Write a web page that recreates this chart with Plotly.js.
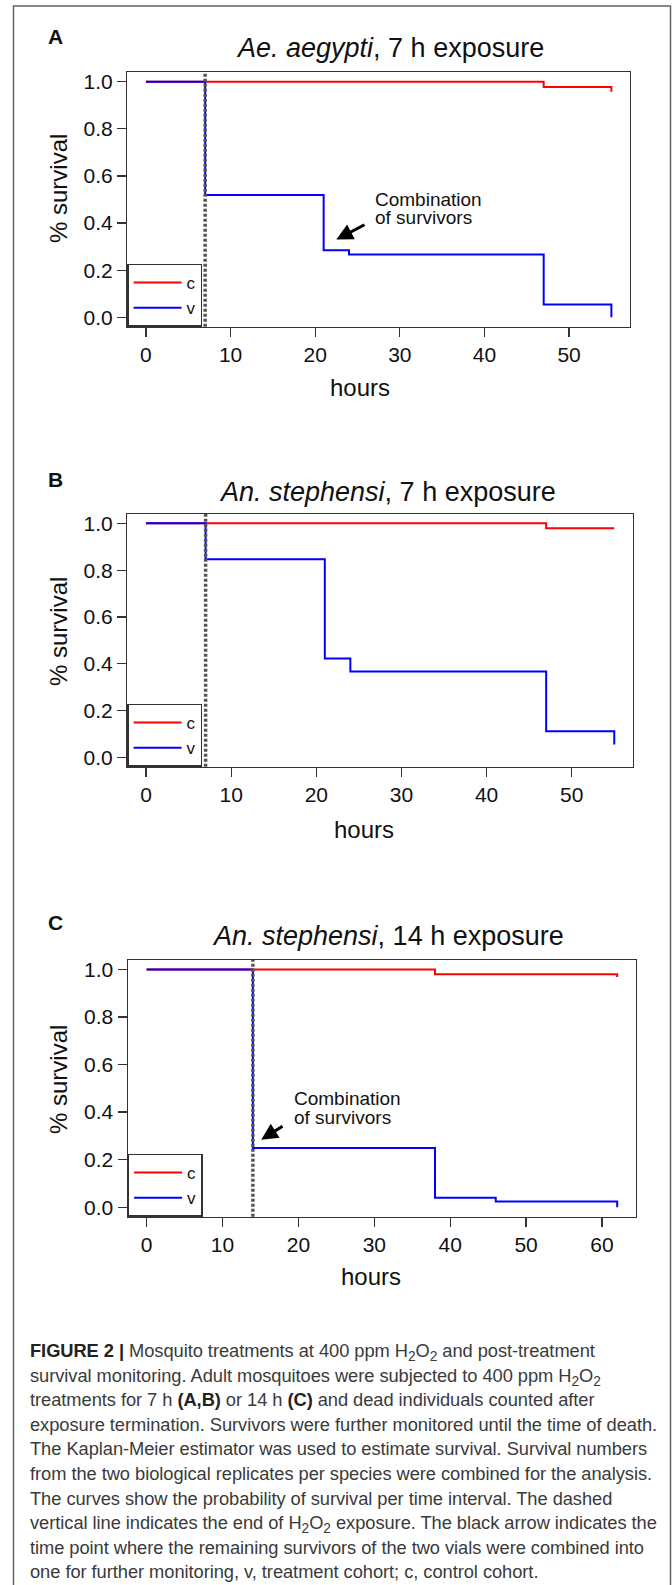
<!DOCTYPE html>
<html>
<head>
<meta charset="utf-8">
<script src="https://cdn.plot.ly/plotly-3.0.1.min.js"></script>
<style>
  html, body { margin: 0; padding: 0; background: #fff; overflow: hidden; }
  #wrap { position: relative; width: 672px; height: 1585px; }
  #chart { position: absolute; left: 0; top: 0; width: 672px; height: 1585px; }
  #caption {
    position: absolute; left: 30px; top: 1339px; width: 640px;
    font-family: "Liberation Sans", Arial, sans-serif; font-size: 18.3px;
    line-height: 24.6px; color: #3a3a3a; white-space: nowrap; letter-spacing: -0.05px;
  }
  #caption b { color: #222; }
  #caption sub { font-size: 0.75em; vertical-align: baseline; position: relative; top: 0.3em; line-height: 0; }
</style>
</head>
<body>
<div id="wrap">
  <div id="chart"></div>
  <div id="caption">
    <b>FIGURE 2 |</b> Mosquito treatments at 400 ppm H<sub>2</sub>O<sub>2</sub> and post-treatment<br>
    survival monitoring. Adult mosquitoes were subjected to 400 ppm H<sub>2</sub>O<sub>2</sub><br>
    treatments for 7 h <b>(A,B)</b> or 14 h <b>(C)</b> and dead individuals counted after<br>
    exposure termination. Survivors were further monitored until the time of death.<br>
    The Kaplan-Meier estimator was used to estimate survival. Survival numbers<br>
    from the two biological replicates per species were combined for the analysis.<br>
    The curves show the probability of survival per time interval. The dashed<br>
    vertical line indicates the end of H<sub>2</sub>O<sub>2</sub> exposure. The black arrow indicates the<br>
    time point where the remaining survivors of the two vials were combined into<br>
    one for further monitoring, v, treatment cohort; c, control cohort.
  </div>
</div>
<script>
// ---------- data ----------
const panelLabels = ["A", "B", "C"];
const panelTitles = ["<i>Ae. aegypti</i>, 7 h exposure", "<i>An. stephensi</i>, 7 h exposure", "<i>An. stephensi</i>, 14 h exposure"];
const exposureHours = [7, 7, 14];
const seriesNames = ["c", "v"];
const xAxisTitle = "hours";
const yAxisTitle = "% survival";

// Panel A
const hoursA_c = [0, 47, 55];
const survA_c  = [1.0, 0.978, 0.957];
const hoursA_v = [0, 7, 21, 24, 47, 55];
const survA_v  = [1.0, 0.519, 0.285, 0.267, 0.054, 0.0];

// Panel B
const hoursB_c = [0, 47, 55];
const survB_c  = [1.0, 0.979, 0.979];
const hoursB_v = [0, 7, 21, 24, 47, 55];
const survB_v  = [1.0, 0.847, 0.422, 0.367, 0.112, 0.055];

// Panel C
const hoursC_c = [0, 38, 62];
const survC_c  = [1.0, 0.980, 0.968];
const hoursC_v = [0, 14, 38, 46, 62];
const survC_v  = [1.0, 0.249, 0.040, 0.024, 0.0];

const xTickVals = [0, 10, 20, 30, 40, 50, 60];
const yTickVals = [0, 0.2, 0.4, 0.6, 0.8, 1.0];
const yTickText = ["0.0", "0.2", "0.4", "0.6", "0.8", "1.0"];
const annotLines = ["Combination", "of survivors"];

// ---------- layout helpers ----------
const W = 672, H = 1585;
const FONT = '"Liberation Sans", Arial, Helvetica, sans-serif';
const px = v => v / W;
const py = v => 1 - v / H;

const boxes = [
  {l: 127.3, r: 630.0, t: 72.3,  b: 326.7, xr: [-2.2, 57.2]},
  {l: 127.3, r: 633.0, t: 514.0, b: 766.7, xr: [-2.2, 57.2]},
  {l: 127.8, r: 636.0, t: 960.0, b: 1216.7, xr: [-2.48, 64.48]}
];
const titlePos = [{x: 390, y: 48}, {x: 388, y: 492}, {x: 388, y: 936}];
const labelPos = [{x: 46, y: 36}, {x: 46, y: 479}, {x: 46, y: 922}];
const xTitlePos = [{x: 360, y: 388}, {x: 364, y: 829}, {x: 371, y: 1276}];
const yTitlePos = [{x: 58, y: 189}, {x: 58, y: 632}, {x: 58, y: 1080}];

function xAxis(i) {
  const b = boxes[i];
  return {
    domain: [px(b.l), px(b.r)], range: b.xr, anchor: i === 0 ? 'y' : 'y' + (i + 1),
    showline: true, mirror: true, linecolor: '#333', linewidth: 1.3,
    ticks: 'outside', ticklen: 9, tickwidth: 1.3, tickcolor: '#333',
    tickvals: xTickVals, showgrid: false, zeroline: false,
    tickfont: {size: 21, color: '#111'},
    automargin: false, fixedrange: true
  };
}
function yAxis(i) {
  const b = boxes[i];
  return {
    domain: [py(b.b), py(b.t)], range: [-0.04, 1.04], anchor: i === 0 ? 'x' : 'x' + (i + 1),
    showline: true, mirror: true, linecolor: '#333', linewidth: 1.3,
    ticks: 'outside', ticklen: 9, tickwidth: 1.3, tickcolor: '#333',
    tickvals: yTickVals, ticktext: yTickText, showgrid: false, zeroline: false,
    tickfont: {size: 21, color: '#111'},
    automargin: false, fixedrange: true
  };
}

const cData = [[hoursA_c, survA_c], [hoursB_c, survB_c], [hoursC_c, survC_c]];
const vData = [[hoursA_v, survA_v], [hoursB_v, survB_v], [hoursC_v, survC_v]];

const traces = [];
const layout = {
  width: W, height: H, margin: {l: 0, r: 0, t: 0, b: 0},
  paper_bgcolor: '#fff', plot_bgcolor: '#fff',
  font: {family: FONT, color: '#111'},
  showlegend: true, annotations: [], shapes: []
};

for (let i = 0; i < 3; i++) {
  const sfx = i === 0 ? '' : String(i + 1);
  const legName = 'legend' + sfx;
  traces.push({
    type: 'scatter', mode: 'lines', name: seriesNames[0],
    x: cData[i][0], y: cData[i][1], line: {shape: 'hv', color: '#ff0000', width: 2},
    xaxis: 'x' + sfx, yaxis: 'y' + sfx, legend: legName, hoverinfo: 'skip'
  });
  traces.push({
    type: 'scatter', mode: 'lines', name: seriesNames[1],
    x: vData[i][0], y: vData[i][1], line: {shape: 'hv', color: '#0000ff', width: 2},
    xaxis: 'x' + sfx, yaxis: 'y' + sfx, legend: legName, hoverinfo: 'skip'
  });
  layout['xaxis' + sfx] = xAxis(i);
  layout['yaxis' + sfx] = yAxis(i);
  const b = boxes[i];
  layout[legName] = {
    x: px(b.l), y: py(b.b), xanchor: 'left', yanchor: 'bottom',
    xref: 'paper', yref: 'paper',
    bordercolor: '#333', borderwidth: 1.3, bgcolor: 'rgba(255,255,255,0)',
    font: {size: 17, color: '#111'}, traceorder: 'normal', itemwidth: 48, tracegroupgap: 0
  };
  // exposure end dashed line
  layout.shapes.push({
    type: 'line', xref: 'x' + sfx, yref: 'y' + sfx + ' domain',
    x0: exposureHours[i], x1: exposureHours[i], y0: 0, y1: 1,
    line: {color: '#555', width: 3.5, dash: '3px,2px'}, layer: 'above'
  });
  // panel title
  layout.annotations.push({
    xref: 'paper', yref: 'paper', x: px(titlePos[i].x), y: py(titlePos[i].y),
    xanchor: 'center', yanchor: 'middle', showarrow: false,
    text: panelTitles[i], font: {size: 27, color: '#111'}
  });
  // panel label
  layout.annotations.push({
    xref: 'paper', yref: 'paper', x: px(labelPos[i].x), y: py(labelPos[i].y),
    xanchor: 'left', yanchor: 'middle', showarrow: false,
    text: '<b>' + panelLabels[i] + '</b>', font: {size: 21, color: '#111'}
  });
  // axis titles (placed as in the original R figure)
  layout.annotations.push({
    xref: 'paper', yref: 'paper', x: px(xTitlePos[i].x), y: py(xTitlePos[i].y),
    xanchor: 'center', yanchor: 'middle', showarrow: false,
    text: xAxisTitle, font: {size: 24, color: '#111'}
  });
  layout.annotations.push({
    xref: 'paper', yref: 'paper', x: px(yTitlePos[i].x), y: py(yTitlePos[i].y),
    xanchor: 'center', yanchor: 'middle', showarrow: false, textangle: -90,
    text: yAxisTitle, font: {size: 24, color: '#111'}
  });
}

// "Combination of survivors" annotations (panels A and C)
const arrowSpecs = [
  {ax: 'x', ay: 'y', head: [22.5, 0.33], tail: [26.0, 0.396], textX: 26.8, textY: [0.502, 0.424]},
  {ax: 'x3', ay: 'y3', head: [15.1, 0.284], tail: [18.1, 0.345], textX: 19.1, textY: [0.4575, 0.379]}
];
arrowSpecs.forEach(s => {
  layout.annotations.push({
    xref: s.ax, yref: s.ay, x: s.head[0], y: s.head[1],
    axref: s.ax, ayref: s.ay, ax: s.tail[0], ay: s.tail[1],
    text: '', showarrow: true, arrowhead: 2, arrowsize: 1.1, arrowwidth: 3, arrowcolor: '#000'
  });
  annotLines.forEach((t, k) => {
    layout.annotations.push({
      xref: s.ax, yref: s.ay, x: s.textX, y: s.textY[k],
      xanchor: 'left', yanchor: 'middle', align: 'left', showarrow: false,
      text: t, font: {size: 19, color: '#111'}
    });
  });
});

// outer figure frame
layout.shapes.push({
  type: 'rect', xref: 'paper', yref: 'paper',
  x0: px(13.5), x1: px(670.5), y0: -0.02, y1: py(6),
  line: {color: '#666', width: 1.5}, fillcolor: 'rgba(0,0,0,0)', layer: 'below'
});

Plotly.newPlot('chart', traces, layout, {displayModeBar: false, staticPlot: true});
</script>
</body>
</html>
